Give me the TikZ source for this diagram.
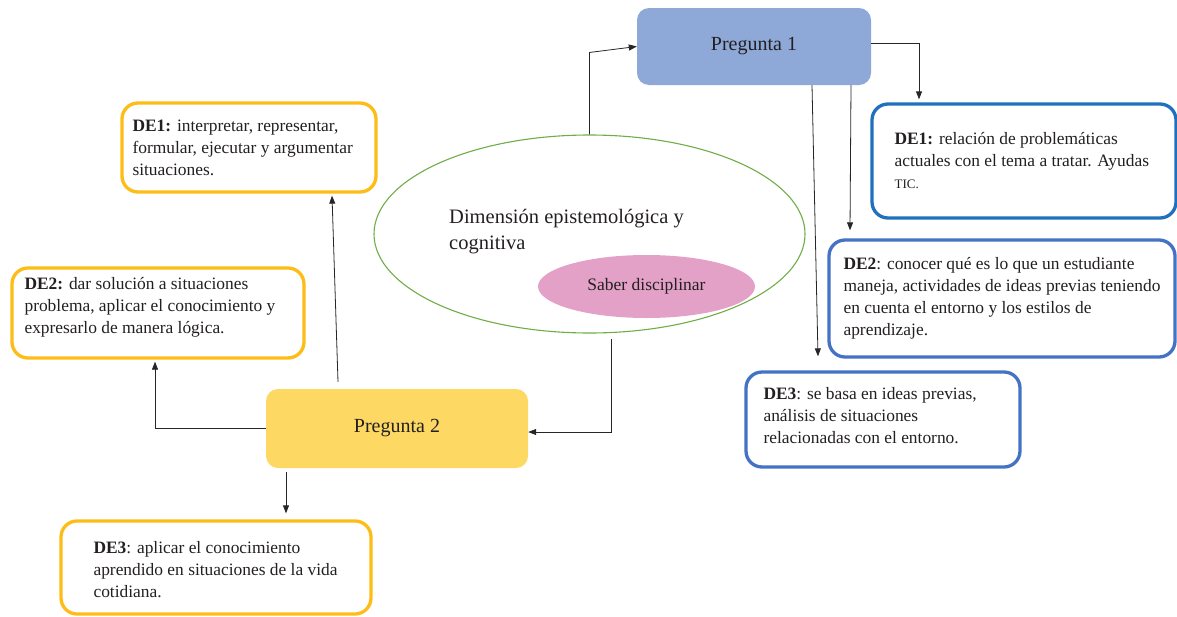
\documentclass[tikz,border=0pt]{standalone}
\usepackage{fontspec}
\setmainfont{Liberation Serif}
\usetikzlibrary{shapes.geometric,arrows.meta}
\definecolor{pregA}{RGB}{142,169,216}
\definecolor{pregB}{RGB}{253,216,98}
\definecolor{dimgreen}{RGB}{112,173,71}
\definecolor{saberpink}{RGB}{228,161,200}
\definecolor{deorange}{RGB}{253,188,22}
\definecolor{deblue}{RGB}{31,112,190}
\definecolor{debluealt}{RGB}{68,114,196}
\definecolor{ink}{RGB}{35,31,32}
\tikzset{
  pregbox/.style={rectangle, rounded corners=12pt, inner sep=0pt, font=\fontsize{20}{24}\selectfont, text=ink},
  debox/.style={rectangle, rounded corners=16pt, line width=3.3pt},
  detext/.style={anchor=west, align=left, inner sep=0pt, font=\fontsize{17.4}{22}\selectfont, text=ink},
  link/.style={draw=black!85, line width=0.8pt, -{Triangle[length=8pt,width=6pt]}},
}

\begin{document}
\begin{tikzpicture}[x=1pt, y=-1pt]
\useasboundingbox (0,0) rectangle (1177,616);
% Questions
    \node[pregbox, fill=pregA, minimum width=234pt, minimum height=77pt] (preg1) at (754,46.5) {Pregunta 1};
    \node[pregbox, fill=pregB, minimum width=262pt, minimum height=79pt] (preg2) at (397,428.5) {Pregunta 2};
% Dimension
    \node[ellipse, draw=dimgreen, line width=1.1pt, minimum width=431pt, minimum height=198pt] (dim) at (589.5,234) {};
    \node[anchor=north west, align=left, inner sep=0pt, font=\fontsize{20.5}{26}\selectfont, text=ink] (dimtext) at (449,209) {Dimensión epistemológica y\\cognitiva};
    \node[ellipse, fill=saberpink, inner sep=0pt, minimum width=217pt, minimum height=63pt, font=\fontsize{17.5}{21}\selectfont, text=ink] (saber) at (646.5,286.5) {Saber disciplinar};
% Boxes of Pregunta 1
    \node[debox, draw=deblue, minimum width=304pt, minimum height=114pt] (rde1) at (1024,161) {};
    \node[debox, draw=debluealt, minimum width=346pt, minimum height=117pt] (rde2) at (1002,298.5) {};
    \node[debox, draw=debluealt, minimum width=274pt, minimum height=95pt] (rde3) at (883,419.5) {};
    \node[detext] (rde1t) at ([xshift=24pt]rde1.west) {\textbf{DE1:} relación de problemáticas\\actuales con el tema a tratar. Ayudas\\{\fontsize{13}{22}\selectfont TIC.}};
    \node[detext] (rde2t) at ([xshift=16pt]rde2.west) {\textbf{DE2}: conocer qué es lo que un estudiante\\maneja, actividades de ideas previas teniendo\\en cuenta el entorno y los estilos de\\aprendizaje.};
    \node[detext] (rde3t) at ([xshift=19pt, yshift=4pt]rde3.west) {\textbf{DE3}: se basa en ideas previas,\\análisis de situaciones\\relacionadas con el entorno.};
% Boxes of Pregunta 2
    \node[debox, draw=deorange, minimum width=254pt, minimum height=89pt] (ode1) at (249,147.5) {};
    \node[debox, draw=deorange, minimum width=292pt, minimum height=90pt] (ode2) at (158,313) {};
    \node[debox, draw=deorange, minimum width=310pt, minimum height=93pt] (ode3) at (216,567.5) {};
    \node[detext] (ode1t) at ([xshift=12pt]ode1.west) {\textbf{DE1:} interpretar, representar,\\formular, ejecutar y argumentar\\situaciones.};
    \node[detext] (ode2t) at ([xshift=14pt, yshift=6pt]ode2.west) {\textbf{DE2:} dar solución a situaciones\\problema, aplicar el conocimiento y\\expresarlo de manera lógica.};
    \node[detext] (ode3t) at ([xshift=34pt, yshift=-2pt]ode3.west) {\textbf{DE3}: aplicar el conocimiento\\aprendido en situaciones de la vida\\cotidiana.};
% Connectors
    \draw[link] (dim.north) -- ++(0,-82) -- (preg1.west);
    \draw[link] ([yshift=3.5pt]preg1.east) -| ([xshift=-105pt, yshift=3pt]rde1.north);
    \draw[link] ([xshift=97pt]preg1.south) -- ([xshift=-152pt, yshift=8pt]rde2.north);
    \draw[link] ([xshift=58pt]preg1.south) -- ([xshift=-65pt, yshift=14pt]rde3.north);
    \draw[link] ([xshift=21.5pt, yshift=-5pt]dim.south) |- ([yshift=-3.5pt]preg2.east);
    \draw[link] ([xshift=-59pt, yshift=7pt]preg2.north) -- ([xshift=83pt, yshift=-2pt]ode1.south);
    \draw[link] (preg2.west) -| ([xshift=-3pt, yshift=-2pt]ode2.south);
    \draw[link] ([xshift=-111pt, yshift=-4pt]preg2.south) -- ([xshift=70pt, yshift=6pt]ode3.north);
\end{tikzpicture}
\end{document}
